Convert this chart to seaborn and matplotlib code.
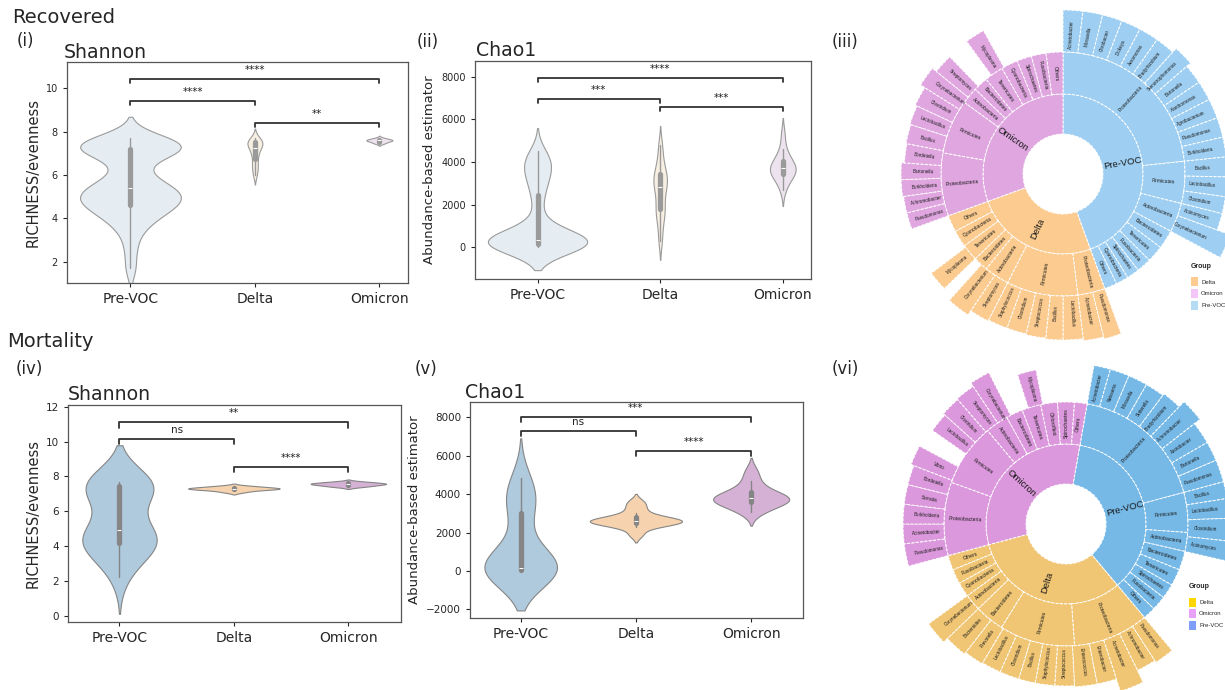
import numpy as np
import matplotlib
matplotlib.use("Agg")
import matplotlib.pyplot as plt
import seaborn as sns
from matplotlib.patches import Rectangle

sns.set_style("ticks")
plt.rcParams['font.family'] = ['DejaVu Sans']

W, H = 1225, 690
fig = plt.figure(figsize=(W / 100, H / 100), dpi=100)


def fx(x):
    return x / W


def fy(y):
    return 1 - y / H


groups = ["Pre-VOC", "Delta", "Omicron"]

# ---------------- violin data (samples) ----------------
rec_shannon_pre = [1.7, 2.6, 3.3, 3.7, 3.9, 4.1, 4.3, 4.4, 4.5, 4.6, 4.7, 4.8, 4.9, 5.0, 5.0, 5.1,
                   5.2, 5.3, 5.4, 5.5, 5.6, 5.8, 6.0, 6.5, 6.9, 7.0, 7.1, 7.2, 7.2, 7.3, 7.3, 7.4,
                   7.4, 7.5, 7.5, 7.6, 7.7]
rec_shannon_delta = [6.0, 6.3, 6.5, 6.8, 7.0, 7.2, 7.3, 7.4, 7.5, 7.5, 7.6, 7.7]
rec_shannon_omi = [7.45, 7.5, 7.55, 7.6, 7.6, 7.6, 7.65, 7.7]

rec_chao_pre = [20, 40, 60, 80, 100, 120, 140, 160, 180, 200, 220, 250, 280, 310, 340, 380, 430,
                500, 600, 750, 1200, 2000, 2600, 3000, 3300, 3600, 3800, 4000, 4200, 4500]
rec_chao_delta = [300, 1000, 1500, 1700, 2000, 2400, 2800, 2900, 3100, 3300, 3500, 3700, 4200, 4800]
rec_chao_omi = [2700, 3100, 3300, 3400, 3500, 3600, 3700, 3750, 3800, 3900, 4100, 4300, 4600, 5300]

mort_shannon_pre = [2.2, 2.8, 3.3, 3.7, 3.9, 4.0, 4.1, 4.2, 4.3, 4.4, 4.5, 4.6, 4.7, 4.8, 5.1, 5.6,
                    6.4, 7.0, 7.2, 7.3, 7.4, 7.5, 7.5, 7.6, 7.6, 7.7, 7.7, 7.7]
mort_shannon_delta = [7.1, 7.2, 7.25, 7.3, 7.3, 7.3, 7.35, 7.4, 7.45]
mort_shannon_omi = [7.4, 7.45, 7.5, 7.55, 7.55, 7.6, 7.6, 7.65, 7.7]

mort_chao_pre = [0, 0, 10, 20, 30, 50, 70, 90, 100, 110, 130, 200, 400, 800, 1500, 2500, 3200,
                 3500, 3800, 4100, 4400, 4850]
mort_chao_delta = [1900, 2300, 2400, 2500, 2550, 2600, 2600, 2650, 2700, 2800, 3000, 3300, 3600]
mort_chao_omi = [3050, 3300, 3450, 3600, 3700, 3750, 3780, 3800, 3900, 4100, 4300, 4700, 5200]

# significance brackets
pairs = [(0, 2), (0, 1), (1, 2)]
rec_shannon_sig = ["****", "****", "**"]
rec_shannon_lvl = [10.4, 9.4, 8.4]
rec_chao_sig = ["****", "***", "***"]
rec_chao_lvl = [7950, 6950, 6590]
mort_shannon_sig = ["**", "ns", "****"]
mort_shannon_lvl = [11.1, 10.15, 8.55]
mort_chao_sig = ["***", "ns", "****"]
mort_chao_lvl = [8000, 7290, 6260]

light_cols = ["#E5EDF2", "#F8EFE3", "#EDE3EE"]
dark_cols = ["#AFC9DD", "#F6D3AE", "#D6B1D6"]


def violin_panel(box, samples, colors, widths, bws, edge, ylim, xlim, yticks, ylabel,
                 levels, marks, drop, ytick_fs, ylab_fs):
    l, t, r, b = box
    ax = fig.add_axes([l / W, 1 - b / H, (r - l) / W, (b - t) / H])
    for g, vals, c, w, bw in zip(groups, samples, colors, widths, bws):
        sns.violinplot(x=[g] * len(vals), y=vals, order=groups, ax=ax, color=c, width=w,
                       bw_adjust=bw, saturation=1, linecolor=edge, linewidth=0.8,
                       inner="box", inner_kws=dict(box_width=3.8, whis_width=1.0))
    for (a, bb), y, m in zip(pairs, levels, marks):
        ax.plot([a, a, bb, bb], [y - drop, y, y, y - drop], color="#333333", lw=1.3)
        ax.annotate(m, xy=((a + bb) / 2, y), xytext=(0, 6.5), textcoords="offset points",
                    ha="center", va="center", fontsize=7.5, color="#222222")
    ax.set_xlim(xlim)
    ax.set_ylim(ylim)
    ax.set_yticks(yticks)
    ax.set_xlabel("")
    ax.set_ylabel(ylabel, fontsize=ylab_fs)
    ax.tick_params(axis="y", labelsize=ytick_fs, length=3, width=0.8)
    ax.tick_params(axis="x", labelsize=10, length=3, width=0.8)
    for s in ax.spines.values():
        s.set_visible(True)
        s.set_color("#555555")
        s.set_linewidth(0.9)
    return ax


violin_panel((67, 62, 408, 283), [rec_shannon_pre, rec_shannon_delta, rec_shannon_omi], light_cols,
             [0.81, 0.12, 0.21], [0.65, 0.65, 1.0], "#9A9A9A", (1.03, 11.2), (-0.51, 2.23),
             [2, 4, 6, 8, 10], "RICHNESS/evenness", rec_shannon_lvl, rec_shannon_sig, 0.18, 7, 10.5)
violin_panel((475, 61, 811, 279), [rec_chao_pre, rec_chao_delta, rec_chao_omi], light_cols,
             [0.81, 0.11, 0.21], [0.7, 0.6, 1.0], "#9A9A9A", (-1490, 8740), (-0.51, 2.23),
             [0, 2000, 4000, 6000, 8000], "Abundance-based estimator", rec_chao_lvl, rec_chao_sig,
             190, 7, 9.5)
violin_panel((68, 405, 401, 622), [mort_shannon_pre, mort_shannon_delta, mort_shannon_omi], dark_cols,
             [0.65, 0.80, 0.66], [1.15, 1.0, 1.0], "#858585", (-0.36, 12.1), (-0.45, 2.46),
             [0, 2, 4, 6, 8, 10, 12], "RICHNESS/evenness", mort_shannon_lvl, mort_shannon_sig, 0.3,
             7.5, 10.5)
violin_panel((470, 402, 803, 618), [mort_chao_pre, mort_chao_delta, mort_chao_omi], dark_cols,
             [0.63, 0.80, 0.66], [1.08, 0.8, 1.0], "#858585", (-2450, 8800), (-0.44, 2.45),
             [-2000, 0, 2000, 4000, 6000, 8000], "Abundance-based estimator", mort_chao_lvl,
             mort_chao_sig, 250, 7.5, 9.5)

# ---------------- sunburst data ----------------
iii_group_share = [160, 90, 110]
iii_phyla = ["Proteobacteria", "Firmicutes", "Actinobacteria", "Bacteroidetes", "Tenericutes",
             "Fusobacteria", "Spirochaetes", "Cyanobacteria", "Others",
             "Proteobacteria", "Firmicutes", "Actinobacteria", "Bacteroidetes", "Tenericutes",
             "Cyanobacteria", "Others",
             "Proteobacteria", "Firmicutes", "Actinobacteria", "Bacteroidetes", "Tenericutes",
             "Cyanobacteria", "Spirochaetes", "Fusobacteria", "Others"]
iii_phylum_share = [84, 20, 14, 9, 8, 7, 6, 6, 6,
                    13, 34, 12, 7, 8, 8, 8,
                    30, 26, 8, 7, 9, 8, 7, 7, 8]
iii_genera = ["Acinetobacter", "Moraxella", "Citrobacter", "Dickeya", "Aeromonas", "Bradyrhizobium",
              "Stenotrophomonas", "Bartonella", "Xanthomonas", "Agrobacterium", "Pseudomonas",
              "Burkholderia", "Bacillus", "Lactobacillus", "Clostridium", "Actinomyces",
              "Corynebacterium", "",
              "Pseudomonas", "Acinetobacter", "Lactobacillus", "Bacillus", "Streptococcus",
              "Clostridium", "Staphylococcus", "Streptomyces", "Corynebacterium", "", "Mycoplasma", "",
              "Pseudomonas", "Achromobacter", "Burkholderia", "Bartonella", "Bordetella", "Bacillus",
              "Lactobacillus", "Clostridium", "Corynebacterium", "Streptomyces", "", "Mycoplasma", ""]
iii_genus_share = [7, 7, 7, 7, 7, 7, 7, 7, 7, 7, 7, 7, 7, 7, 6, 6, 8, 42,
                   6, 7, 7, 6, 7, 7, 7, 7, 8, 4, 7, 17,
                   6, 6, 6, 6, 7, 7, 7, 7, 7, 7, 8, 7, 29]
iii_genus_depth = [164, 164, 164, 164, 164, 164, 169, 164, 164, 164, 164, 164, 164, 164, 164, 164, 178, 0,
                   170, 168, 166, 166, 165, 164, 164, 165, 170, 0, 165, 0,
                   161, 161, 162, 162, 159, 160, 161, 163, 168, 163, 0, 164, 0]
iii_colors = ["#9ECFF2", "#FBCB8F", "#E0A6E0"]
iii_legend_colors = ["#FDCB8F", "#F3C6F7", "#B5DBF4"]

vi_group_share = [130, 115, 115]
vi_phyla = ["Proteobacteria", "Firmicutes", "Actinobacteria", "Bacteroidetes", "Tenericutes",
            "Spirochaetes", "Fusobacteria", "Others",
            "Proteobacteria", "Firmicutes", "Bacteroidetes", "Actinobacteria", "Cyanobacteria",
            "Fusobacteria", "Others",
            "Proteobacteria", "Firmicutes", "Actinobacteria", "Bacteroidetes", "Tenericutes",
            "Chloroflexi", "Spirochaetes", "Others"]
vi_phylum_share = [65, 19, 9, 9, 8, 7, 7, 6,
                   36, 36, 14, 8, 7, 7, 7,
                   35, 30, 11, 8, 9, 8, 8, 6]
vi_genera = ["Acinetobacter", "Neisseria", "Moraxella", "Sutterella", "Bradyrhizobium", "Achromobacter",
             "Azotobacter", "Bartonella", "Pseudomonas", "Bacillus", "Lactobacillus", "Clostridium",
             "Actinomyces", "",
             "Pseudomonas", "Achromobacter", "Acinetobacter", "Enterobacter", "Enterococcus",
             "Streptococcus", "Staphylococcus", "Bacillus", "Clostridium", "Lactobacillus",
             "Prevotella", "Bacteroides", "Corynebacterium", "",
             "Pseudomonas", "Acinetobacter", "Burkholderia", "Serratia", "Bordetella", "Vibrio", "",
             "Lactobacillus", "Clostridium", "Streptomyces", "Corynebacterium", "", "Mycoplasma", ""]
vi_genus_share = [6, 7, 7, 7, 7, 8, 8, 7, 8, 6, 7, 8, 7, 37,
                  7, 7, 8, 7, 8, 7, 7, 6, 7, 7, 7, 8, 8, 21,
                  8, 7, 7, 7, 7, 7, 7, 7, 7, 7, 7, 9, 7, 21]
vi_genus_depth = [161, 161, 161, 161, 163, 170, 163, 163, 163, 163, 163, 163, 178, 0,
                  165, 163, 176, 163, 163, 162, 162, 162, 162, 162, 163, 165, 170, 0,
                  163, 163, 163, 163, 163, 166, 0, 163, 165, 166, 170, 0, 157, 0]
vi_colors = ["#76B9E7", "#F0C674", "#DC98DC"]
vi_legend_colors = ["#FFD700", "#E7A2F7", "#7E9EF8"]

legend_labels = ["Delta", "Omicron", "Pre-VOC"]
SB_FONT = ["Liberation Sans", "DejaVu Sans"]


def radial_label(ax, ang, r, s, fs):
    m = (90 - ang + 180) % 360 - 180
    if m > 90:
        rot = m - 180
    elif m < -90:
        rot = m + 180
    else:
        rot = m
    ax.text(np.deg2rad(ang), r, s, rotation=rot, rotation_mode="anchor", ha="center", va="center",
            fontsize=fs, family=SB_FONT, color="#1a1a1a")


def sunburst(center, offset, gshare, colors, phyla, pshare, genera, gnshare, depth):
    cx, cy = center
    R = 200
    ax = fig.add_axes([(cx - R) / W, 1 - (cy + R) / H, 2 * R / W, 2 * R / H], projection="polar")
    ax.set_theta_zero_location("N")
    ax.set_theta_direction(-1)
    ax.set_ylim(0, R)
    ax.set_axis_off()
    gb = offset + np.concatenate([[0], np.cumsum(gshare)])

    def grp(a):
        return int(np.searchsorted(gb, a, side="right") - 1)

    kw = dict(align="edge", edgecolor="white", linewidth=0.7, linestyle=(0, (3, 1.5)))
    for i, (g, s) in enumerate(zip(groups, gshare)):
        ax.bar(np.deg2rad(gb[i]), 40, width=np.deg2rad(s), bottom=40, color=colors[i], **kw)
        radial_label(ax, gb[i] + s / 2, 61, g, 6.8)
    start = offset
    for p, s in zip(phyla, pshare):
        c = colors[grp(start + s / 2)]
        ax.bar(np.deg2rad(start), 42, width=np.deg2rad(s), bottom=80, color=c, **kw)
        radial_label(ax, start + s / 2, 101, p, 3.6)
        start += s
    start = offset
    for gname, s, d in zip(genera, gnshare, depth):
        if gname:
            c = colors[grp(start + s / 2)]
            ax.bar(np.deg2rad(start), d - 122, width=np.deg2rad(s), bottom=122, color=c, **kw)
            radial_label(ax, start + s / 2, min((122 + d) / 2, 139.5), gname, 3.3)
        start += s
    return ax


def legend(x, title_y, y0, colors):
    fig.text(fx(x), fy(title_y), "Group", fontsize=5, fontweight="bold", va="center",
             family=SB_FONT)
    for i, (lab, c) in enumerate(zip(legend_labels, colors)):
        yc = y0 + i * 11.7
        fig.add_artist(Rectangle((fx(x), fy(yc + 4.5)), 7 / W, 9 / H, transform=fig.transFigure,
                                 facecolor=c, edgecolor="none"))
        fig.text(fx(x + 10), fy(yc), lab, fontsize=4.3, va="center", family=SB_FONT)


sunburst((1063, 174), 0, iii_group_share, iii_colors, iii_phyla, iii_phylum_share, iii_genera,
         iii_genus_share, iii_genus_depth)
sunburst((1066, 524), 10, vi_group_share, vi_colors, vi_phyla, vi_phylum_share, vi_genera,
         vi_genus_share, vi_genus_depth)
legend(1191, 267, 282, iii_legend_colors)
legend(1189, 587, 602, vi_legend_colors)

# ---------------- panel texts ----------------
fig.text(fx(12), fy(23), "Recovered", fontsize=14, va="baseline")
fig.text(fx(7), fy(347), "Mortality", fontsize=14, va="baseline")
for txt, x, y in [("(i)", 17, 46), ("(ii)", 417, 47), ("(iii)", 832, 47),
                  ("(iv)", 16, 374), ("(v)", 415, 374), ("(vi)", 832, 374)]:
    fig.text(fx(x), fy(y), txt, fontsize=12, va="baseline")
for txt, x, y in [("Shannon", 64, 58), ("Chao1", 476, 56.5), ("Shannon", 68, 400.5),
                  ("Chao1", 465, 397.5)]:
    fig.text(fx(x), fy(y), txt, fontsize=13.6, va="baseline")

fig.savefig("out.png", dpi=100)
